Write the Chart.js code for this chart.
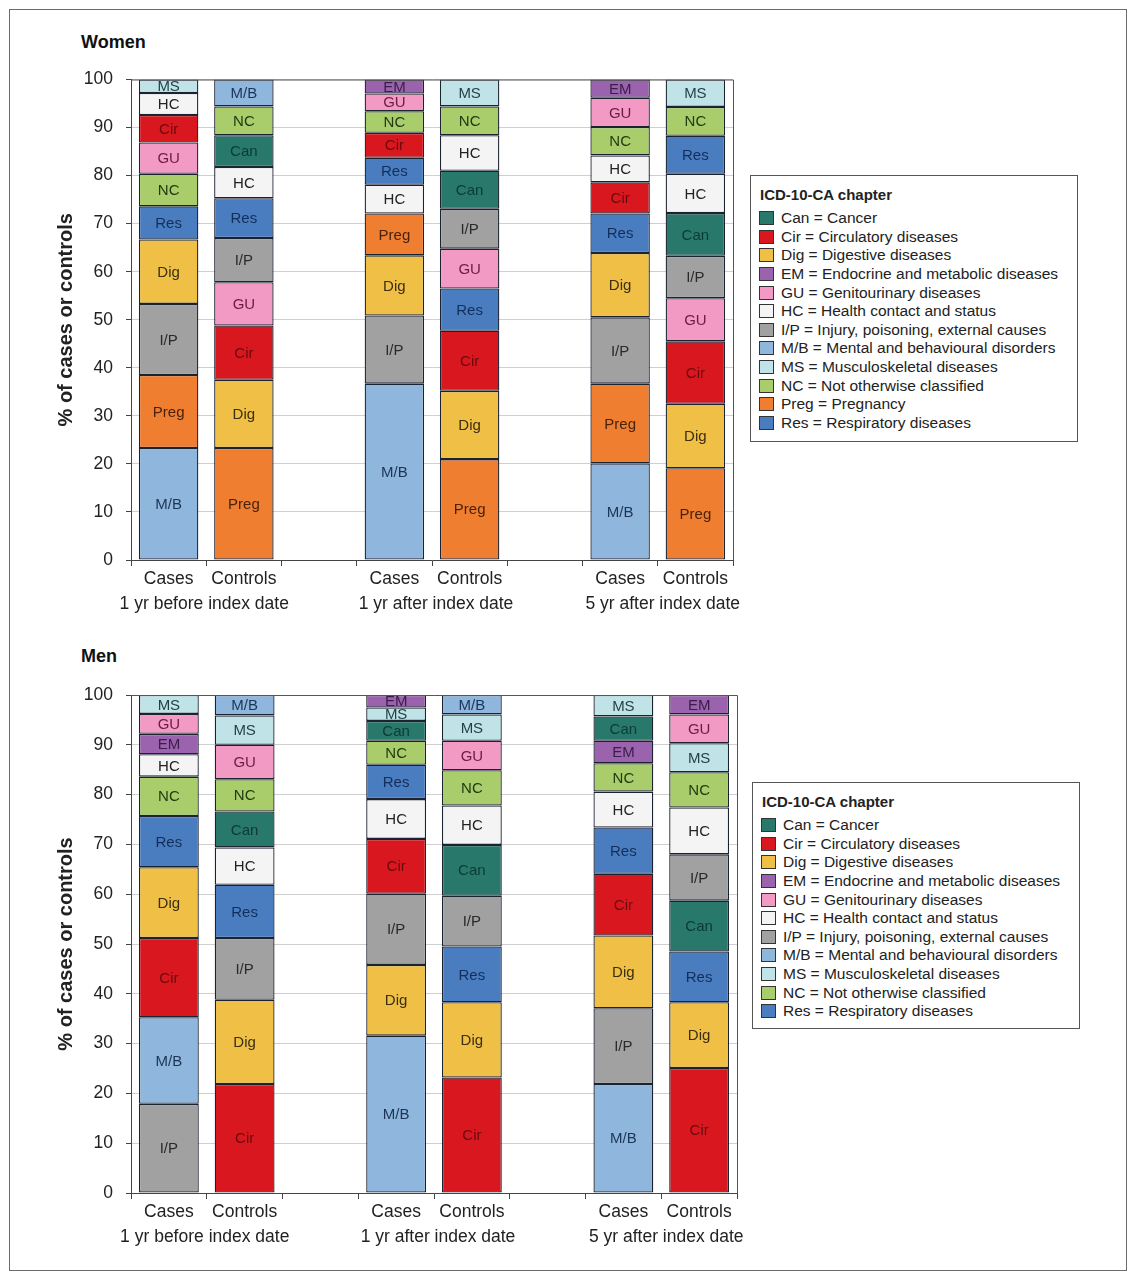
<!DOCTYPE html>
<html>
<head>
<meta charset="utf-8">
<script src="https://cdn.jsdelivr.net/npm/chart.js@4"></script>
<style>
  body { margin: 0; background: #fff; font-family: "Liberation Sans", Arial, sans-serif; }
  #page { position: relative; width: 1136px; height: 1280px; overflow: hidden; }
  #frame { position: absolute; left: 9px; top: 9px; width: 1116px; height: 1260px; border: 1px solid #6a6a6a; }
  .panel-title { position: absolute; left: 81px; font-weight: bold; font-size: 18px; line-height: 20px; color: #111; }
  canvas { position: absolute; left: 0; }
  .legend { position: absolute; width: 326px; border: 1px solid #555; background: #fff; color: #222; font-size: 15.5px; }
  .legend .head { font-weight: bold; line-height: 18px; margin: 10px 0 5px 9px; font-size: 15px; }
  .legend .row { display: flex; align-items: center; height: 18.6px; padding-left: 8px; white-space: nowrap; }
  .legend .sw { width: 13px; height: 12px; border: 1px solid #333; margin-right: 7px; }
</style>
</head>
<body>
<div id="page">
  <div id="frame"></div>
  <div class="panel-title" style="top:32px">Women</div>
  <div class="panel-title" style="top:646px">Men</div>
  <canvas id="women" width="1136" height="640" style="top:0"></canvas>
  <canvas id="men" width="1136" height="658" style="top:615px"></canvas>
  <div class="legend" id="legendWomen" style="left:750px; top:175px; height:265px"></div>
  <div class="legend" id="legendMen" style="left:752px; top:782px; height:245px"></div>
</div>
<script>
// ICD-10-CA chapters
const categories = ['Can', 'Cir', 'Dig', 'EM', 'GU', 'HC', 'I/P', 'M/B', 'MS', 'NC', 'Preg', 'Res'];
const categoryNames = ['Cancer', 'Circulatory diseases', 'Digestive diseases', 'Endocrine and metabolic diseases',
  'Genitourinary diseases', 'Health contact and status', 'Injury, poisoning, external causes',
  'Mental and behavioural disorders', 'Musculoskeletal diseases', 'Not otherwise classified', 'Pregnancy',
  'Respiratory diseases'];
const categoryColors = ['#28796c', '#d8171f', '#f0bf45', '#9b63ad', '#f29ac3', '#f4f4f4', '#a1a1a1',
  '#8fb6dd', '#bfe3e6', '#a9cd6b', '#ef7e30', '#4a7cc0'];
const labelColors = ['#0d3a33', '#6b0a0e', '#3b2f10', '#3a1d48', '#6a1d44', '#222222', '#2a2a2a',
  '#1c3556', '#1f3f44', '#233a12', '#4a220a', '#132f59'];

const xLabels = ['Cases', 'Controls', '', 'Cases', 'Controls', '', 'Cases', 'Controls'];
const periodLabels = ['1 yr before index date', '1 yr after index date', '5 yr after index date'];

// Women: segments listed bottom to top
const wCasesBeforeCats = ['M/B', 'Preg', 'I/P', 'Dig', 'Res', 'NC', 'GU', 'Cir', 'HC', 'MS'];
const wCasesBeforeVals = [23.3, 15.2, 14.8, 13.4, 6.9, 6.8, 6.5, 5.7, 4.6, 2.8];
const wControlsBeforeCats = ['Preg', 'Dig', 'Cir', 'GU', 'I/P', 'Res', 'HC', 'Can', 'NC', 'M/B'];
const wControlsBeforeVals = [23.3, 14.2, 11.3, 9.0, 9.2, 8.3, 6.5, 6.6, 6.0, 5.6];
const wCasesAfter1Cats = ['M/B', 'I/P', 'Dig', 'Preg', 'HC', 'Res', 'Cir', 'NC', 'GU', 'EM'];
const wCasesAfter1Vals = [36.7, 14.2, 12.5, 8.7, 6.0, 5.6, 5.2, 4.5, 3.7, 2.9];
const wControlsAfter1Cats = ['Preg', 'Dig', 'Cir', 'Res', 'GU', 'I/P', 'Can', 'HC', 'NC', 'MS'];
const wControlsAfter1Vals = [21.0, 14.2, 12.5, 8.8, 8.3, 8.3, 7.9, 7.4, 6.0, 5.6];
const wCasesAfter5Cats = ['M/B', 'Preg', 'I/P', 'Dig', 'Res', 'Cir', 'HC', 'NC', 'GU', 'EM'];
const wCasesAfter5Vals = [20.1, 16.6, 13.8, 13.4, 8.2, 6.5, 5.6, 5.9, 6.1, 3.8];
const wControlsAfter5Cats = ['Preg', 'Dig', 'Cir', 'GU', 'I/P', 'Can', 'HC', 'Res', 'NC', 'MS'];
const wControlsAfter5Vals = [19.1, 13.4, 13.0, 9.0, 8.8, 8.9, 8.2, 7.9, 6.0, 5.7];

// Men
const mCasesBeforeCats = ['I/P', 'M/B', 'Cir', 'Dig', 'Res', 'NC', 'HC', 'EM', 'GU', 'MS'];
const mCasesBeforeVals = [17.9, 17.4, 15.9, 14.2, 10.3, 7.9, 4.5, 4.1, 4.0, 3.8];
const mControlsBeforeCats = ['Cir', 'Dig', 'I/P', 'Res', 'HC', 'Can', 'NC', 'GU', 'MS', 'M/B'];
const mControlsBeforeVals = [21.9, 16.9, 12.4, 10.7, 7.5, 7.2, 6.5, 6.9, 5.9, 4.1];
const mCasesAfter1Cats = ['M/B', 'Dig', 'I/P', 'Cir', 'HC', 'Res', 'NC', 'Can', 'MS', 'EM'];
const mCasesAfter1Vals = [31.6, 14.2, 14.3, 11.0, 8.0, 6.9, 4.8, 4.0, 2.7, 2.5];
const mControlsAfter1Cats = ['Cir', 'Dig', 'Res', 'I/P', 'Can', 'HC', 'NC', 'GU', 'MS', 'M/B'];
const mControlsAfter1Vals = [23.2, 15.1, 11.2, 10.2, 10.2, 7.9, 7.1, 5.9, 5.3, 3.9];
const mCasesAfter5Cats = ['M/B', 'I/P', 'Dig', 'Cir', 'Res', 'HC', 'NC', 'EM', 'Can', 'MS'];
const mCasesAfter5Vals = [21.9, 15.2, 14.6, 12.4, 9.3, 7.2, 5.7, 4.5, 4.9, 4.3];
const mControlsAfter5Cats = ['Cir', 'Dig', 'Res', 'Can', 'I/P', 'HC', 'NC', 'MS', 'GU', 'EM'];
const mControlsAfter5Vals = [25.1, 13.2, 10.2, 10.2, 9.3, 9.4, 7.1, 5.8, 5.8, 3.9];

const womenBars = [
  [wCasesBeforeCats, wCasesBeforeVals], [wControlsBeforeCats, wControlsBeforeVals], null,
  [wCasesAfter1Cats, wCasesAfter1Vals], [wControlsAfter1Cats, wControlsAfter1Vals], null,
  [wCasesAfter5Cats, wCasesAfter5Vals], [wControlsAfter5Cats, wControlsAfter5Vals]
];
const menBars = [
  [mCasesBeforeCats, mCasesBeforeVals], [mControlsBeforeCats, mControlsBeforeVals], null,
  [mCasesAfter1Cats, mCasesAfter1Vals], [mControlsAfter1Cats, mControlsAfter1Vals], null,
  [mCasesAfter5Cats, mCasesAfter5Vals], [mControlsAfter5Cats, mControlsAfter5Vals]
];

const FONT = '"Liberation Sans", Arial, sans-serif';
const colorOf = c => categoryColors[categories.indexOf(c)];
// the period captions sit a little off the pair midpoint in the original
const periodNudge = [-2, 4, 5];

// one dataset per stacking layer, so each bar can have its own order
function buildDatasets(bars) {
  const layers = Math.max(...bars.filter(b => b).map(b => b[0].length));
  const sets = [];
  for (let k = 0; k < layers; k++) {
    sets.push({
      data: bars.map(b => b ? b[1][k] : null),
      cats: bars.map(b => b ? b[0][k] : null),
      backgroundColor: bars.map(b => b ? colorOf(b[0][k]) : 'transparent'),
      borderColor: '#1b2230',
      borderWidth: 1.3,
      borderSkipped: false,
      barPercentage: 0.79,
      categoryPercentage: 1
    });
  }
  return sets;
}

const extrasPlugin = {
  id: 'extras',
  afterDatasetsDraw(chart) {
    const ctx = chart.ctx;
    const a = chart.chartArea;
    // segment labels
    ctx.save();
    ctx.font = '15px ' + FONT;
    ctx.textAlign = 'center';
    ctx.textBaseline = 'middle';
    chart.data.datasets.forEach((ds, di) => {
      chart.getDatasetMeta(di).data.forEach((el, i) => {
        if (ds.data[i] == null) return;
        const p = el.getProps(['x', 'y', 'base', 'width'], true);
        const top = Math.min(p.y, p.base), bot = Math.max(p.y, p.base);
        ctx.save();
        ctx.beginPath();
        ctx.rect(p.x - p.width / 2, top - 1, p.width, bot - top + 2);
        ctx.clip();
        ctx.fillStyle = labelColors[categories.indexOf(ds.cats[i])];
        ctx.fillText(ds.cats[i], p.x, (top + bot) / 2 + 1);
        ctx.restore();
      });
    });
    ctx.restore();
    // top and right frame of the plot area
    ctx.save();
    ctx.strokeStyle = '#555';
    ctx.lineWidth = 1;
    ctx.beginPath();
    ctx.moveTo(a.left, a.top + 0.5);
    ctx.lineTo(a.right + 0.5, a.top + 0.5);
    ctx.lineTo(a.right + 0.5, a.bottom);
    ctx.stroke();
    ctx.restore();
  },
  afterDraw(chart) {
    const ctx = chart.ctx;
    const a = chart.chartArea;
    const x = chart.scales.x;
    ctx.save();
    ctx.fillStyle = '#222';
    ctx.font = '17.5px ' + FONT;
    ctx.textAlign = 'center';
    ctx.textBaseline = 'middle';
    periodLabels.forEach((t, g) => {
      const cx = (x.getPixelForValue(g * 3) + x.getPixelForValue(g * 3 + 1)) / 2 + periodNudge[g];
      ctx.fillText(t, cx, a.bottom + 44);
    });
    // y axis title
    ctx.font = 'bold 20px ' + FONT;
    ctx.translate(66, (a.top + a.bottom) / 2);
    ctx.rotate(-Math.PI / 2);
    ctx.fillText('% of cases or controls', 0, 0);
    ctx.restore();
  }
};

function makeChart(id, bars, padTop) {
  new Chart(document.getElementById(id), {
    type: 'bar',
    data: { labels: xLabels, datasets: buildDatasets(bars) },
    options: {
      responsive: false,
      animation: false,
      layout: { padding: { left: 20, right: id === 'men' ? 399 : 403, top: padTop, bottom: 0 } },
      plugins: { legend: { display: false }, tooltip: { enabled: false } },
      scales: {
        x: {
          stacked: true,
          afterFit: s => { s.height = 80; },
          grid: { offset: true, drawOnChartArea: false, tickLength: 6, tickColor: '#444' },
          border: { display: true, color: '#444', width: 1 },
          ticks: { color: '#222', font: { family: FONT, size: 17.5 }, padding: 3, maxRotation: 0, autoSkip: false }
        },
        y: {
          stacked: true,
          min: 0,
          max: 100,
          afterFit: s => { s.width = 111; },
          grid: { color: '#cfcfcf', tickLength: 5, tickColor: '#444' },
          border: { display: true, color: '#444', width: 1 },
          ticks: { stepSize: 10, color: '#222', font: { family: FONT, size: 17.5 }, padding: 13 }
        }
      }
    },
    plugins: [extrasPlugin]
  });
}

makeChart('women', womenBars, 79.5);
makeChart('men', menBars, 80);

function buildLegend(id, cats) {
  const box = document.getElementById(id);
  let html = '<div class="head">ICD-10-CA chapter</div>';
  cats.forEach(c => {
    const i = categories.indexOf(c);
    html += '<div class="row"><span class="sw" style="background:' + categoryColors[i] + '"></span>' +
      c + ' = ' + categoryNames[i] + '</div>';
  });
  box.innerHTML = html;
}
buildLegend('legendWomen', categories);
buildLegend('legendMen', categories.filter(c => c !== 'Preg'));
</script>
</body>
</html>
